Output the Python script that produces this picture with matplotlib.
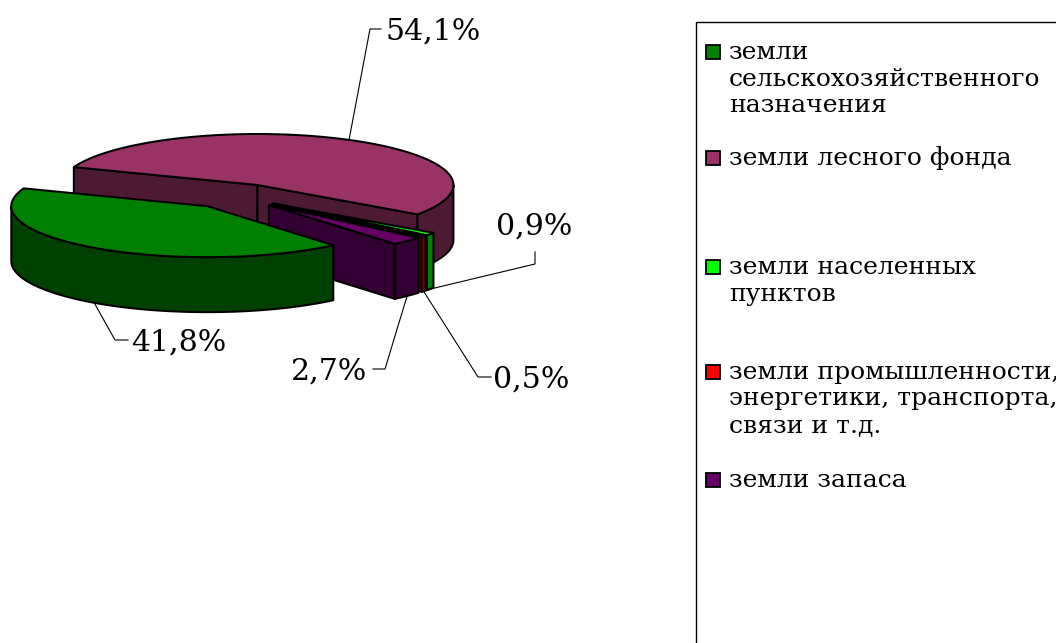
import numpy as np
import matplotlib
matplotlib.use('Agg')
import matplotlib.pyplot as plt
from matplotlib.patches import Polygon, Rectangle

# ---------------- data ----------------
categories = [
    "земли\nсельскохозяйственного\nназначения",
    "земли лесного фонда",
    "земли населенных\nпунктов",
    "земли промышленности,\nэнергетики, транспорта,\nсвязи и т.д.",
    "земли запаса",
]
values = [41.8, 54.1, 0.9, 0.5, 2.7]
top_colors = ["#008000", "#993366", "#00ff00", "#ff0000", "#660066"]
side_colors = ["#004000", "#4d1a33", "#008000", "#800000", "#330033"]

# ---------------- layout ----------------
W, H = 1056, 643
fig = plt.figure(figsize=(W / 100, H / 100), dpi=100)
ax = fig.add_axes([0, 0, 1, 1])
ax.set_xlim(0, W)
ax.set_ylim(H, 0)
ax.axis('off')

CX, CY = 235, 196      # pie centre (px)
R = 196                # radius (px)
K = 0.26               # vertical squash (sin of elevation)
DEPTH = 55             # thickness on screen (px)
EXPL = 48              # explosion distance
START = -50.0          # math angle where first slice starts; slices run clockwise
LW = 1.45
SERIF = "DejaVu Serif"


def proj(x, y, z=0.0):
    return (CX + x, CY - y * K + z)


total = float(sum(values))
spans = []
a = START
for v in values:
    s = v / total * 360.0
    spans.append((a - s, a))
    a -= s


def arc(vx, vy, t0, t1, z, n=None):
    if n is None:
        n = max(2, int(abs(t1 - t0) / 1.0) + 2)
    ts = np.radians(np.linspace(t0, t1, n))
    return [proj(vx + R * np.cos(t), vy + R * np.sin(t), z) for t in ts]


def poly(pts, fc):
    ax.add_patch(Polygon(pts, closed=True, facecolor=fc, edgecolor='black',
                         linewidth=LW, joinstyle='round'))


slices = []
for i, (lo, hi) in enumerate(spans):
    mid = np.radians((lo + hi) / 2)
    vx, vy = EXPL * np.cos(mid), EXPL * np.sin(mid)
    slices.append((vy, i, lo, hi, vx, vy, mid))

anchors = {}
for vy_key, i, lo, hi, vx, vy, mid in sorted(slices, key=lambda s: -s[0]):
    # radial faces
    if np.cos(np.radians(hi)) < 0:
        t = np.radians(hi)
        rx, ry = vx + R * np.cos(t), vy + R * np.sin(t)
        poly([proj(vx, vy, 0), proj(rx, ry, 0), proj(rx, ry, DEPTH), proj(vx, vy, DEPTH)], side_colors[i])
    if np.cos(np.radians(lo)) > 0:
        t = np.radians(lo)
        rx, ry = vx + R * np.cos(t), vy + R * np.sin(t)
        poly([proj(vx, vy, 0), proj(rx, ry, 0), proj(rx, ry, DEPTH), proj(vx, vy, DEPTH)], side_colors[i])
    # outer wall (front-facing part)
    for k in range(-3, 3):
        a0 = max(lo, -180 + 360 * k)
        a1 = min(hi, 360 * k)
        if a1 > a0:
            pts = arc(vx, vy, a0, a1, 0) + arc(vx, vy, a1, a0, DEPTH)
            poly(pts, side_colors[i])
    # top
    poly([proj(vx, vy, 0)] + arc(vx, vy, lo, hi, 0), top_colors[i])
    # label anchor
    z = 0 if np.sin(mid) > 0 else DEPTH
    anchors[i] = proj(vx + R * np.cos(mid), vy + R * np.sin(mid), z)

# ---------------- data labels ----------------
# (elbow points, text position, alignment)
label_layout = {
    0: ([(115, 340), (128, 340)], (131, 340), 'left'),
    1: ([(370, 29), (381, 29)], (386, 29), 'left'),
    2: ([(535, 264), (535, 252)], (534, 224), 'center'),
    3: ([(478, 377), (491, 377)], (493, 377), 'left'),
    4: ([(385, 369), (373, 369)], (367, 369), 'right'),
}
LBL_PX = 30
for i, v in enumerate(values):
    elbows, (tx, ty), ha = label_layout[i]
    pts = [anchors[i]] + elbows
    ax.plot([p[0] for p in pts], [p[1] for p in pts], color='black', lw=0.8,
            solid_joinstyle='miter')
    txt = f"{v:.1f}".replace('.', ',') + '%'
    ax.text(tx, ty + 0.365 * LBL_PX, txt, ha=ha, va='baseline',
            fontsize=LBL_PX * 0.72, family=SERIF, color='black')

# ---------------- legend ----------------
ax.add_patch(Rectangle((696, 22), 500, 700, facecolor='none', edgecolor='black',
                       linewidth=1.0, clip_on=True))
entry_y = [52, 158, 267, 372, 480]
LEG_PX = 25
line_gap = 26.5
for i, lab in enumerate(categories):
    y0 = entry_y[i]
    ax.add_patch(Rectangle((706, y0 - 7), 14, 14, facecolor=top_colors[i],
                           edgecolor='black', linewidth=1.3))
    for j, line in enumerate(lab.split('\n')):
        ax.text(729, y0 + j * line_gap + 7, line, ha='left', va='baseline',
                fontsize=LEG_PX * 0.72, family=SERIF, color='black')

fig.savefig('out.png', dpi=100)
